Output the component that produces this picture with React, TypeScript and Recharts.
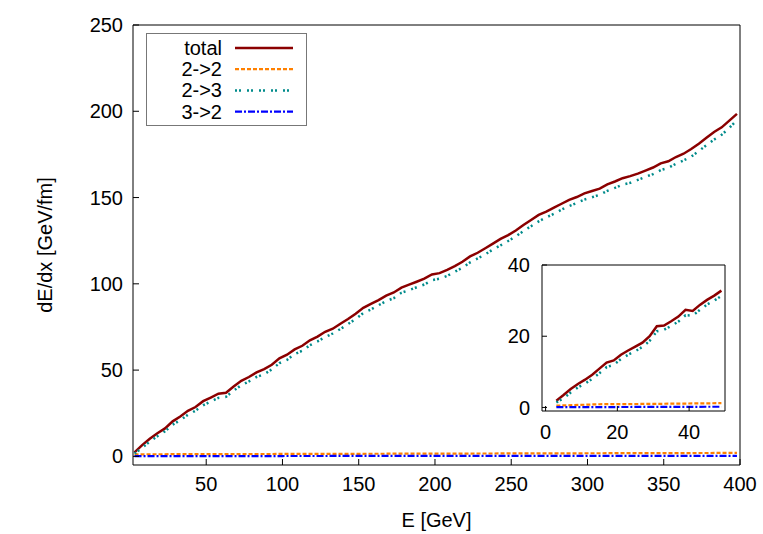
import { LineChart, Line, XAxis, YAxis, Legend } from "recharts";

const FONT = "'Liberation Sans', Arial, Helvetica, sans-serif";

// main plot: E [GeV] grid of the sampled curves
const mainE = [
  3, 8, 13, 18, 23, 28, 33, 38, 43, 48, 53, 58, 63, 68, 73, 78, 83, 88, 93, 98,
  103, 108, 113, 118, 123, 128, 133, 138, 143, 148, 153, 158, 163, 168, 173, 178, 183, 188, 193, 198,
  203, 208, 213, 218, 223, 228, 233, 238, 243, 248, 253, 258, 263, 268, 273, 278, 283, 288, 293, 298,
  303, 308, 313, 318, 323, 328, 333, 338, 343, 348, 353, 358, 363, 368, 373, 378, 383, 388, 393, 398,
];

const mainTotal = [
  2.3, 6.5, 10.2, 13.4, 16.2, 20.3, 23.1, 26.4, 28.6, 32.0,
  34.1, 36.3, 36.9, 40.5, 43.8, 46.0, 48.7, 50.6, 53.1, 56.8,
  58.9, 62.0, 64.1, 67.3, 69.4, 72.2, 74.0, 76.9, 79.6, 82.7,
  86.1, 88.4, 90.6, 93.2, 95.0, 97.8, 99.5, 101.2, 103.0, 105.4,
  106.2, 108.1, 110.3, 112.8, 115.9, 118.0, 120.6, 123.3, 126.0, 128.2,
  130.9, 134.1, 137.0, 139.9, 141.8, 144.1, 146.4, 148.7, 150.3, 152.4,
  153.8, 155.2, 157.6, 159.3, 161.2, 162.4, 163.9, 165.6, 167.4, 169.8,
  171.0, 173.5, 175.4, 178.1, 181.2, 184.6, 188.0, 190.7, 194.6, 198.5,
];

const main23 = [
  1.6, 5.0, 8.6, 11.7, 14.5, 18.4, 21.0, 24.1, 26.5, 29.6,
  31.8, 33.9, 34.5, 38.1, 41.2, 43.4, 46.0, 47.6, 50.4, 54.0,
  55.9, 59.3, 61.2, 64.4, 66.6, 69.1, 71.2, 73.8, 76.7, 79.6,
  83.0, 85.1, 87.6, 90.0, 91.7, 94.8, 96.3, 98.0, 99.6, 102.1,
  103.0, 104.6, 107.0, 109.3, 112.4, 114.7, 117.1, 119.9, 122.3, 124.8,
  127.5, 130.6, 133.4, 136.2, 138.5, 140.6, 143.0, 145.1, 146.9, 148.8,
  150.2, 151.6, 153.9, 155.6, 157.5, 158.5, 160.2, 162.0, 163.6, 165.9,
  167.2, 169.6, 171.5, 173.7, 177.0, 180.4, 183.6, 186.4, 190.3, 195.0,
];

const mainFlatE = [3, 50, 100, 150, 200, 250, 300, 350, 398];
const main22 = [1.2, 1.3, 1.4, 1.5, 1.6, 1.7, 1.8, 1.9, 2.0];
const main32 = [0.2, 0.2, 0.2, 0.25, 0.25, 0.3, 0.3, 0.3, 0.3];

// inset: low energy zoom
const insetE = [3, 5, 7, 9, 11, 13, 15, 17, 19, 21, 23, 25, 27, 29, 31, 33, 35, 37, 39, 41, 43, 45, 47, 49];
const insetTotal = [
  1.9, 3.5, 5.2, 6.6, 7.8, 9.2, 10.9, 12.6, 13.2, 14.8, 16.0, 17.1,
  18.2, 20.0, 22.8, 23.0, 24.2, 25.5, 27.4, 27.1, 28.8, 30.2, 31.4, 32.8,
];
const inset23 = [
  1.4, 2.6, 4.2, 5.6, 6.7, 8.0, 9.6, 11.3, 12.0, 13.6, 14.8, 15.8,
  17.0, 18.7, 21.4, 21.8, 22.9, 24.1, 25.9, 25.8, 27.4, 28.9, 30.0, 31.3,
];
const insetFlatE = [3, 15, 30, 49];
const inset22 = [0.5, 0.9, 1.0, 1.2];
const inset32 = [0.1, 0.1, 0.15, 0.2];

const mainXTicks = [50, 100, 150, 200, 250, 300, 350, 400];
const mainYTicks = [0, 50, 100, 150, 200, 250];
const insetXTicks = [0, 20, 40];
const insetYTicks = [0, 20, 40];

const SERIES = [
  { name: "total", color: "#8b0000", dash: undefined as string | undefined, width: 2.5 },
  { name: "2->2", color: "#ff8000", dash: "4 2", width: 2.2 },
  { name: "2->3", color: "#008b8b", dash: "2 2 2 6", width: 2.5 },
  { name: "3->2", color: "#0000ff", dash: "7 2 2 2", width: 2.2 },
];

const zip = (xs: number[], ys: number[]) => xs.map((E, i) => ({ E, v: ys[i] }));

const mainData = [
  zip(mainE, mainTotal),
  zip(mainFlatE, main22),
  zip(mainE, main23),
  zip(mainFlatE, main32),
];
const insetData = [
  zip(insetE, insetTotal),
  zip(insetFlatE, inset22),
  zip(insetE, inset23),
  zip(insetFlatE, inset32),
];

const tickStyle = { fill: "#000", fontSize: 20, fontFamily: FONT };

function LegendBox() {
  return (
    <svg width={161} height={93} style={{ display: "block" }}>
      <rect x={0.5} y={0.5} width={160} height={92} fill="#fff" stroke="#777" strokeWidth={1} />
      {SERIES.map((s, i) => {
        const cy = 15 + i * 21.2;
        return (
          <g key={s.name}>
            <text x={76} y={cy + 7} textAnchor="end" fontSize={20} fontFamily={FONT} fill="#000">
              {s.name}
            </text>
            <line x1={89} x2={147} y1={cy} y2={cy} stroke={s.color} strokeWidth={s.width} strokeDasharray={s.dash} />
          </g>
        );
      })}
    </svg>
  );
}

export default function App() {
  return (
    <div style={{ position: "absolute", left: 0, top: 0, width: 763, height: 534, background: "#fff", fontFamily: FONT }}>
      <div style={{ position: "absolute", left: 0, top: 0 }}>
        <LineChart width={763} height={534} margin={{ top: 24, right: 22, left: 0, bottom: 0 }}>
          <XAxis
            type="number"
            dataKey="E"
            domain={[2, 400]}
            ticks={mainXTicks}
            interval={0}
            allowDataOverflow
            height={69}
            stroke="#000"
            tickSize={-6}
            tickMargin={18}
            tick={tickStyle}
            label={{ value: "E [GeV]", position: "insideBottom", offset: 7, fill: "#000", fontSize: 20 }}
          />
          {/* mirrored ticks along the top and right borders */}
          <XAxis
            xAxisId="top"
            orientation="top"
            type="number"
            domain={[2, 400]}
            ticks={mainXTicks}
            interval={0}
            height={1}
            stroke="#000"
            tickSize={-6}
            tick={false}
          />
          <YAxis
            type="number"
            domain={[-5, 250]}
            ticks={mainYTicks}
            interval={0}
            allowDataOverflow
            width={133}
            stroke="#000"
            tickSize={-6}
            tickMargin={16}
            tick={tickStyle}
            label={{
              value: "dE/dx [GeV/fm]",
              angle: -90,
              position: "insideLeft",
              offset: 45,
              fill: "#000",
              fontSize: 20,
              style: { textAnchor: "middle" },
            }}
          />
          <YAxis
            yAxisId="right"
            orientation="right"
            type="number"
            domain={[-5, 250]}
            ticks={mainYTicks}
            interval={0}
            width={1}
            stroke="#000"
            tickSize={-6}
            tick={false}
          />
          <Legend
            layout="horizontal"
            verticalAlign="middle"
            align="center"
            content={() => <LegendBox />}
            wrapperStyle={{ position: "absolute", left: 146, top: 33, width: 161, height: 93 }}
          />
          {SERIES.map((s, i) => (
            <Line
              key={s.name}
              data={mainData[i]}
              dataKey="v"
              name={s.name}
              type="linear"
              stroke={s.color}
              strokeWidth={s.width}
              strokeDasharray={s.dash}
              dot={false}
              activeDot={false}
              isAnimationActive={false}
            />
          ))}
        </LineChart>
      </div>

      {/* inset */}
      <div style={{ position: "absolute", left: 480, top: 250 }}>
        <LineChart width={260} height={200} margin={{ top: 14, right: 14, left: 0, bottom: 0 }}>
          <XAxis
            type="number"
            dataKey="E"
            domain={[-1, 50]}
            ticks={insetXTicks}
            interval={0}
            allowDataOverflow
            height={39}
            stroke="#000"
            tickSize={-5}
            tickMargin={19}
            tick={tickStyle}
          />
          <XAxis
            xAxisId="top"
            orientation="top"
            type="number"
            domain={[-1, 50]}
            ticks={insetXTicks}
            interval={0}
            height={1}
            stroke="#000"
            tickSize={-5}
            tick={false}
          />
          <YAxis
            type="number"
            domain={[-1, 40]}
            ticks={insetYTicks}
            interval={0}
            allowDataOverflow
            width={62}
            stroke="#000"
            tickSize={-5}
            tickMargin={17}
            tick={tickStyle}
          />
          <YAxis
            yAxisId="right"
            orientation="right"
            type="number"
            domain={[-1, 40]}
            ticks={insetYTicks}
            interval={0}
            width={1}
            stroke="#000"
            tickSize={-5}
            tick={false}
          />
          {SERIES.map((s, i) => (
            <Line
              key={s.name}
              data={insetData[i]}
              dataKey="v"
              name={s.name}
              type="linear"
              stroke={s.color}
              strokeWidth={s.width}
              strokeDasharray={s.dash}
              dot={false}
              activeDot={false}
              isAnimationActive={false}
            />
          ))}
        </LineChart>
      </div>
    </div>
  );
}
